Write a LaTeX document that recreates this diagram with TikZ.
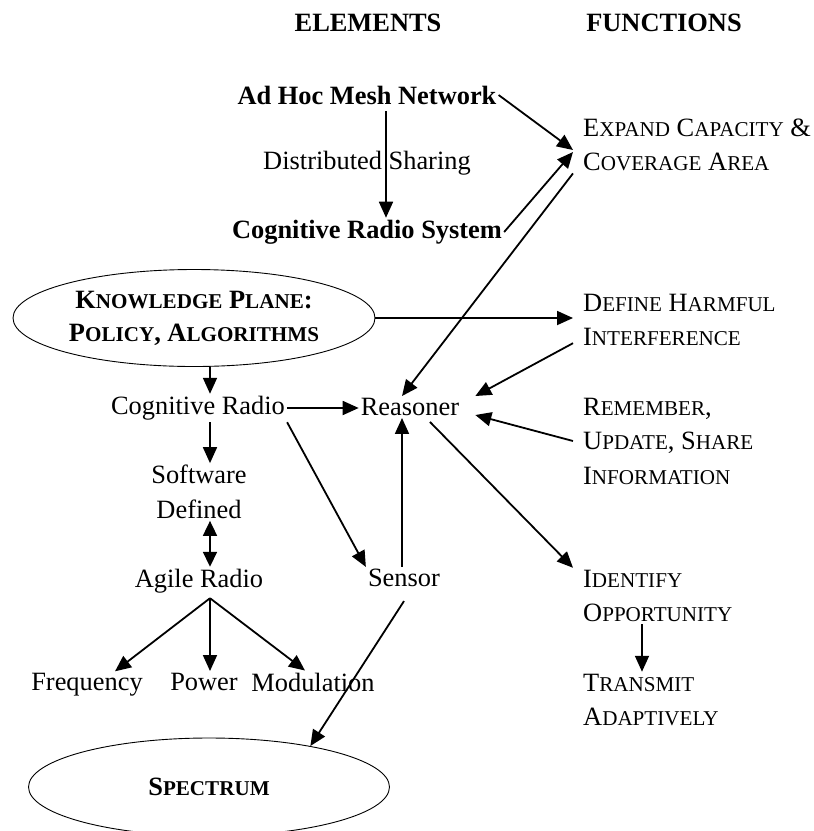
\documentclass[tikz,border=0pt]{standalone}
\usepackage{fontspec}
\setmainfont{Liberation Serif}
\usetikzlibrary{arrows.meta,shapes.geometric}
% smaller capitals for the small caps look
\newcommand\lowcap[1]{{\fontsize{21.1}{25}\selectfont #1}}

\begin{document}
\begin{tikzpicture}[x=1pt,y=-1pt,
  txt/.style={inner sep=2pt, font=\fontsize{26.4}{34.5}\selectfont},
  hdr/.style={txt, font=\fontsize{26.4}{34.5}\selectfont\bfseries},
  fn/.style={txt, align=left, anchor=west, inner xsep=10pt, inner ysep=2pt},
  plane/.style={draw, ellipse, line width=0.9pt, inner sep=0pt, align=center, font=\fontsize{26.4}{33}\selectfont\bfseries},
  arr/.style={line width=1.8pt, -{Triangle[length=16pt,width=14pt]}},
  dbl/.style={line width=1.8pt, {Triangle[length=15pt,width=14pt]}-{Triangle[length=15pt,width=14pt]}}]

\useasboundingbox (0,0) rectangle (814,831);

% column heads
\node[hdr] (elem) at (368,23) {ELEMENTS};
\node[hdr] (func) at (664,23) {FUNCTIONS};

% elements
\node[hdr] (adhoc) at (367,95) {Ad Hoc Mesh Network};
\node[txt] (share) at (367,163) {Distributed Sharing};
\node[hdr] (crs) at (367,232) {Cognitive Radio System};

\node[plane, minimum width=362pt, minimum height=97pt] (kp) at (194,318)
{K\lowcap{NOWLEDGE} P\lowcap{LANE}:\\P\lowcap{OLICY}, A\lowcap{LGORITHMS}};

\node[txt] (cr) at (198,408) {Cognitive Radio};
\node[txt] (reasoner) at (410,407) {Reasoner};
\node[txt, align=center] (soft) at (199,492) {Software\\Defined};
\node[txt] (agile) at (199,581) {Agile Radio};
\node[txt] (sensor) at (404,578) {Sensor};
\node[txt] (freq) at (87,685) {Frequency};
\node[txt] (power) at (204,682) {Power};
\node[txt] (modul) at (313,682) {Modulation};

\node[plane, minimum width=361pt, minimum height=98pt] (spectrum) at (209,787)
{S\lowcap{PECTRUM}};

% functions
\node[fn] (expand) at (573,145) {E\lowcap{XPAND} C\lowcap{APACITY} \&\\C\lowcap{OVERAGE} A\lowcap{REA}};
\node[fn] (define) at (573,320) {D\lowcap{EFINE} H\lowcap{ARMFUL}\\I\lowcap{NTERFERENCE}};
\node[fn] (remember) at (573,441) {R\lowcap{EMEMBER},\\U\lowcap{PDATE}, S\lowcap{HARE}\\I\lowcap{NFORMATION}};
\node[fn] (identify) at (573,596) {I\lowcap{DENTIFY}\\O\lowcap{PPORTUNITY}};
\node[fn] (transmit) at (573,700) {T\lowcap{RANSMIT}\\A\lowcap{DAPTIVELY}};

% connectors
\draw[arr] ([xshift=19pt,yshift=-5pt]adhoc.south) -- ([xshift=19pt]crs.north);
\draw[arr] (adhoc.east) -- ([yshift=-5pt]expand.west);
\draw[arr] (crs.east) -- ([yshift=-7pt]expand.west);
\draw[arr] (expand.south west) -- ([xshift=-8pt]reasoner.north);
\draw[arr] (kp.east) -- (kp.east -| define.west);
\draw[arr] ([xshift=16pt]kp.south) -- ([xshift=12pt]cr.north);
\draw[arr] (cr.east) -- (cr.east -| reasoner.west);
\draw[arr] ([yshift=5pt]define.south west) -- ([xshift=14pt]reasoner.north east);
\draw[arr] (remember.west) -- ([xshift=14pt,yshift=-8pt]reasoner.east);
\draw[arr] ([xshift=20pt,yshift=-4pt]reasoner.south) -- (identify.north west);
\draw[arr] ([xshift=69pt]identify.south west) -- ([xshift=69pt]transmit.north west);
\draw[arr] ([xshift=12pt]cr.south) -- ([xshift=11pt]soft.north);
\draw[dbl] ([xshift=11pt]soft.south) -- ([xshift=11pt]agile.north);
\draw[arr] (cr.south east) -- (sensor.north west);
\draw[arr] ([xshift=-2pt]sensor.north) -- ([xshift=-8pt]reasoner.south);
\draw[arr] ([xshift=11pt,yshift=-3pt]agile.south) -- ([xshift=28pt]freq.north);
\draw[arr] ([xshift=11pt,yshift=-3pt]agile.south) -- ([xshift=6pt]power.north);
\draw[arr] ([xshift=11pt,yshift=-3pt]agile.south) -- ([xshift=-8pt]modul.north);
\draw[arr] ([yshift=-12pt]sensor.south) -- (spectrum.22);
\end{tikzpicture}
\end{document}
